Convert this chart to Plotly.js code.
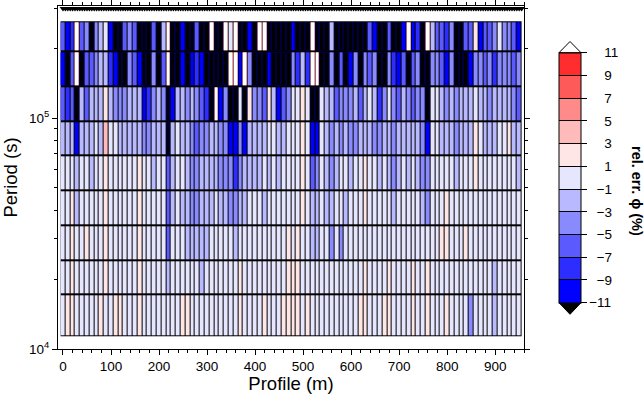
<!DOCTYPE html>
<html><head><meta charset="utf-8">
<script src="https://cdn.plot.ly/plotly-3.0.1.min.js"></script>
<style>html,body{margin:0;padding:0;background:#fff}#chart{width:644px;height:394px}</style>
</head><body><div id="chart"></div>
<script>
// Profile positions (m) of the data columns
const profile = [0,10,20,30,40,50,60,70,80,90,100,110,120,130,140,150,160,170,180,190,200,210,220,230,240,250,260,270,280,290,300,310,320,330,340,350,360,370,380,390,400,410,420,430,440,450,460,470,480,490,500,510,520,530,540,550,560,570,580,590,600,610,620,630,640,650,660,670,680,690,700,710,720,730,740,750,760,770,780,790,800,810,820,830,840,850,860,870,880,890,900,910,920,930,940,950];
// Station markers along the top
const stations = [0,5,10,15,20,25,30,35,40,45,50,55,60,65,70,75,80,85,90,95,100,105,110,115,120,125,130,135,140,145,150,155,160,165,170,175,180,185,190,195,200,205,210,215,220,225,230,235,240,245,250,255,260,265,270,275,280,285,290,295,300,305,310,315,320,325,330,335,340,345,350,355,360,365,370,375,380,385,390,395,400,405,410,415,420,425,430,435,440,445,450,455,460,465,470,475,480,485,490,495,500,505,510,515,520,525,530,535,540,545,550,555,560,565,570,575,580,585,590,595,600,605,610,615,620,625,630,635,640,645,650,655,660,665,670,675,680,685,690,695,700,705,710,715,720,725,730,735,740,745,750,755,760,765,770,775,780,785,790,795,800,805,810,815,820,825,830,835,840,845,850,855,860,865,870,875,880,885,890,895,900,905,910,915,920,925,930,935,940,945,950,955];
const stationPeriod = 299000;
// Period bin edges (s), bottom to top
const periodEdges = [11340, 17180, 24270, 34510, 48640, 68870, 97270, 138000, 195400, 263000];

// Relative phase error (%) per period bin, one value per profile column
const relErr_T1 = [0,2,2,0,0,0,0,0,2,0,0,2,2,0,0,0,2,0,0,0,0,0,0,0, 0,2,2,0,0,0,0,0,0,0,0,0,0,2,0,0,0,0,2,0,0,0,2,2, 2,2,0,2,0,0,0,0,0,0,0,0,0,0,2,2,0,0,0,2,2,0,0,0, 0,2,0,0,2,0,0,0,2,0,0,0,0,-4,0,0,0,0,-2,0,0,0,0,0];
const relErr_T2 = [0,0,2,0,0,0,0,0,0,2,0,0,0,0,0,0,2,0,0,0,0,0,-2,0, 0,0,0,0,0,-2,0,0,0,0,0,0,0,2,0,0,0,0,0,0,0,0,0,2, 2,2,0,0,0,0,0,0,0,0,0,0,0,0,0,2,0,0,0,0,2,0,0,0, 0,2,0,0,2,0,0,0,0,0,0,0,0,0,0,0,0,0,-2,0,0,0,0,0];
const relErr_T3 = [0,0,2,0,0,2,0,0,0,2,0,0,0,0,0,0,2,0,0,0,0,0,-6,0, 0,0,-2,-2,-2,-2,-2,0,0,0,0,0,-2,0,0,0,0,0,0,0,0,0,0,2, 0,2,0,0,-2,-2,0,0,-4,0,-4,0,0,0,0,0,0,0,0,0,0,0,0,0, 0,0,0,0,0,0,0,2,2,0,0,0,2,0,0,0,0,0,0,0,0,0,0,0];
const relErr_T4 = [0,0,2,-2,0,0,0,0,0,2,0,0,0,0,0,0,2,0,0,0,0,0,-6,-2, 0,-2,-2,-4,-4,-2,-2,-2,0,-2,-2,-4,-4,-2,-2,0,0,0,-2,0,0,0,0,0, 0,0,2,0,-2,-2,0,-2,-2,0,0,-2,0,0,0,2,0,0,0,0,0,-2,0,0, 0,0,0,-2,-4,0,0,0,2,0,0,0,0,0,0,0,0,0,0,0,0,0,0,0];
const relErr_T5 = [0,0,0,-2,0,0,-2,0,0,2,0,0,0,0,0,0,2,0,0,-2,0,0,-6,-2, 0,0,-2,-4,-4,-2,-2,-2,-2,-4,-4,-4,-8,-4,-2,-2,-2,-2,0,-2,0,-2,0,0, 0,0,2,0,-6,-4,0,-2,-4,-2,0,0,-2,0,0,2,0,0,-2,0,-2,-4,-2,0, -2,0,-2,-4,-4,0,0,0,0,0,-2,0,0,0,2,0,0,0,0,0,0,0,0,-2];
const relErr_T6 = [-2,-2,-2,-10,-2,-2,-2,0,-2,4,0,0,-2,-2,-2,-2,-2,-4,-4,-2,-2,-2,-14,-2, 0,-2,-2,-4,-6,-4,-4,-2,-2,-4,-4,-10,-10,-4,-10,-2,-2,-2,-2,0,0,-2,-2,0, 0,0,2,0,-10,-10,0,-2,-4,-2,-4,-2,-4,-4,-2,-2,-2,-4,-4,-2,-2,-4,-2,-2, -2,-2,-2,-4,-10,0,0,-2,-2,-2,-4,-2,-2,-2,2,0,-2,-2,-2,0,0,2,-2,-2];
const relErr_T7 = [-6,-8,-6,-14,-2,-6,-2,-2,-2,2,-2,-4,-4,-4,-2,-2,-2,-10,-8,-4,-2,-4,-14,-10, -2,-2,-4,-2,-4,-6,-8,-14,14,-10,-4,-14,-14,0,-14,2,-4,-4,-6,2,-2,-10,-6,-4, 0,0,2,0,-14,-14,0,-2,-2,-6,-4,-4,-4,-2,-6,-2,0,-2,-8,-4,0,-4,-6,-2, -4,-6,-4,-4,-14,0,0,-2,-4,-2,-4,-2,-2,-2,0,-2,-2,-4,-2,-2,-2,-2,-4,-6];
const relErr_T8 = [-10,-14,-6,14,-14,-6,-6,-4,-2,-2,-8,-10,-14,-14,-4,-6,-10,-14,-14,-4,-14,-6,14,-14, -14,-10,-14,-10,-8,-10,-14,-14,-14,-14,-14,14,14,-10,14,-4,-14,-14,-14,-10,-14,-14,-14,-14, -4,-8,-2,-8,14,14,-14,-14,-4,-14,-6,-14,-10,-4,-14,-4,-6,-4,-14,-14,-4,-8,-10,-6, -14,-6,-4,-14,-14,-4,-4,-6,-10,-4,-14,-14,-14,-10,-4,-4,-6,-4,-8,-4,-4,-4,-6,-4];
const relErr_T9 = [-6,-10,-8,14,-6,-4,-14,-4,-2,0,-10,-14,-14,-6,-4,-6,-14,-14,-14,-6,-14,-2,14,-14, -14,-10,-14,-14,-6,-14,-14,14,-14,-14,14,0,14,-14,-14,-10,-14,14,14,-14,-14,-14,-14,-14, -10,-14,-14,-14,14,-14,-14,-14,-2,-14,-14,-14,-14,-14,-14,-14,-6,-10,-14,-14,-6,-14,-14,-10, 14,-10,-8,-14,14,-2,-6,-6,-8,-4,-14,-14,-6,-6,2,-10,-6,-6,-4,0,-4,-4,-6,-10];

// Colour scale: 2 % bins between -11 and 11
const cbTicks = [-11,-9,-7,-5,-3,-1,1,3,5,7,9,11];
const cbTickText = ['\u221211','\u2007\u22129','\u2007\u22127','\u2007\u22125','\u2007\u22123','\u2007\u22121','\u2007\u20071','\u2007\u20073','\u2007\u20075','\u2007\u20077','\u2007\u20079','\u2007\u200711'];
const binColors = ['#0000ff','#2d2dff','#5a5aff','#8a8aff','#b9b9ff','#e6e6ff','#ffe6e6','#ffbaba','#ff8a8a','#ff5a5a','#ff2d2d'];
const zLo = -11, zHi = 11;
const yTickVals = [10000, 100000];
const yTickText = ['10<sup>4</sup>', '10<sup>5</sup>'];
const yMinorVals = [20000,30000,40000,50000,60000,70000,80000,90000,200000,300000];

const rows = [relErr_T1, relErr_T2, relErr_T3, relErr_T4, relErr_T5, relErr_T6, relErr_T7, relErr_T8, relErr_T9];
const nb = binColors.length;
const colorscale = [];
binColors.forEach((c, k) => { colorscale.push([k / nb, c]); colorscale.push([(k + 1) / nb, c]); });

const zOut = rows.map(r => r.map(v => v < zLo ? 0 : (v > zHi ? 1 : null)));
const zBase = rows.map(r => r.map(() => 0));

// geometry of the figure (pixels)
const W = 644, H = 394, mL = 58, mR = 120, mT = 6, mB = 45;
const pw = W - mL - mR, ph = H - mT - mB;
const px = p => (p - mL) / pw;
const py = p => (H - mB - p) / ph;
const cbLeft = 559, cbThick = 22, cbTop = 52.7, cbBot = 302.7;

const cbCommon = {
  x: px(cbLeft), xanchor: 'left', xpad: 0,
  y: py((cbTop + cbBot) / 2), yanchor: 'middle', ypad: 0,
  len: cbBot - cbTop, lenmode: 'pixels',
  thickness: cbThick, thicknessmode: 'pixels',
  tickmode: 'array', tickvals: cbTicks, tickcolor: '#000', tickwidth: 1
};

const traces = [
  { type: 'heatmap', x: profile, y: periodEdges, z: zBase, zmin: 0, zmax: 1,
    colorscale: [[0, '#000'], [1, '#000']], showscale: false, hoverinfo: 'skip' },
  { type: 'heatmap', x: profile, y: periodEdges, z: rows, zmin: zLo, zmax: zHi,
    colorscale: colorscale, xgap: 1, ygap: 2, showscale: true,
    colorbar: Object.assign({}, cbCommon, { ticks: 'inside', ticklen: cbThick, showticklabels: false,
      outlinewidth: 1, outlinecolor: '#000' }) },
  { type: 'heatmap', x: profile, y: periodEdges, z: zOut, zmin: 0, zmax: 1,
    colorscale: [[0, '#000'], [0.5, '#000'], [0.5, '#fff'], [1, '#fff']], xgap: 1, ygap: 2, showscale: false },
  { type: 'scatter', mode: 'markers', x: stations, y: stations.map(() => stationPeriod),
    marker: { symbol: 'triangle-down', size: 6, color: '#000', line: { width: 0 } },
    cliponaxis: false, hoverinfo: 'skip', showlegend: false },
  { type: 'scatter', mode: 'markers', x: [null], y: [null],
    marker: { color: [0], cmin: zLo, cmax: zHi, colorscale: [[0, 'rgba(0,0,0,0)'], [1, 'rgba(0,0,0,0)']], showscale: true,
      colorbar: Object.assign({}, cbCommon, { ticks: 'outside', ticklen: 6, outlinewidth: 0,
        ticktext: cbTickText, tickfont: { size: 13.5 } }) },
    showlegend: false, hoverinfo: 'skip' }
];

const layout = {
  width: W, height: H,
  margin: { l: mL, r: mR, t: mT, b: mB, pad: 0 },
  paper_bgcolor: '#fff', plot_bgcolor: '#fff',
  font: { family: 'Liberation Sans, Arial, sans-serif', size: 13, color: '#000' },
  showlegend: false,
  xaxis: { range: [-10.4, 960], showline: true, linecolor: '#000', linewidth: 1, mirror: 'ticks',
    ticks: 'outside', ticklen: 5, tickcolor: '#000', tick0: 0, dtick: 100,
    showgrid: false, zeroline: false,
    minor: { tick0: 0, dtick: 20, ticks: 'outside', ticklen: 3, tickcolor: '#000' },
    tickfont: { size: 13.5 },
    title: { text: 'Profile (m)', font: { size: 18.5 }, standoff: 3 } },
  yaxis: { type: 'log', range: [4, 5.4861], showline: true, linecolor: '#000', linewidth: 1, mirror: 'ticks',
    ticks: 'outside', ticklen: 5, tickcolor: '#000', tickmode: 'array', tickvals: yTickVals, ticktext: yTickText,
    showgrid: false, zeroline: false,
    minor: { tickmode: 'array', tickvals: yMinorVals, ticks: 'outside', ticklen: 3, tickcolor: '#000' },
    tickfont: { size: 13.5 },
    title: { text: 'Period (s)', font: { size: 18.5 }, standoff: 6 } },
  annotations: [
    { xref: 'paper', yref: 'paper', x: px(637), y: py(191), xanchor: 'center', yanchor: 'middle',
      text: '<b>rel. err. ϕ (%)</b>', textangle: 90, showarrow: false, font: { size: 14.5 } }
  ],
  shapes: [
    { type: 'path', xref: 'paper', yref: 'paper',
      path: 'M' + px(cbLeft) + ',' + py(cbTop) + ' L' + px(cbLeft + cbThick) + ',' + py(cbTop) + ' L' + px(cbLeft + cbThick / 2) + ',' + py(cbTop - 11.2) + ' Z',
      fillcolor: '#fff', line: { color: '#000', width: 1 } },
    { type: 'path', xref: 'paper', yref: 'paper',
      path: 'M' + px(cbLeft) + ',' + py(cbBot) + ' L' + px(cbLeft + cbThick) + ',' + py(cbBot) + ' L' + px(cbLeft + cbThick / 2) + ',' + py(cbBot + 11.6) + ' Z',
      fillcolor: '#000', line: { color: '#000', width: 1 } }
  ]
};

Plotly.newPlot('chart', traces, layout, { staticPlot: true, displayModeBar: false });
</script>
</body></html>
